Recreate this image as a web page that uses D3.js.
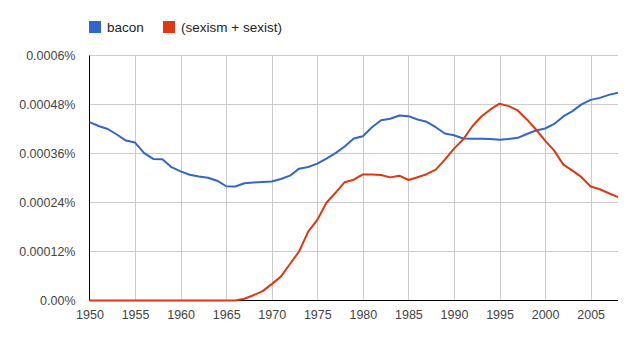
<!DOCTYPE html>
<html>
<head>
<meta charset="utf-8">
<script src="https://cdn.jsdelivr.net/npm/d3@7"></script>
<style>
  html, body { margin: 0; padding: 0; background: #fff; }
  svg { display: block; font-family: Arial, "Liberation Sans", sans-serif; }
</style>
</head>
<body>
<svg id="chart" width="627" height="340"></svg>
<script>
const years = d3.range(1950, 2009);
const seriesNames = ["bacon", "(sexism + sexist)"];
const seriesColors = ["#3366cc", "#dc3912"];
// values in units of 0.0001 %
const bacon = [4.367,4.274,4.200,4.065,3.917,3.868,3.610,3.467,3.457,3.266,
  3.162,3.081,3.039,3.007,2.934,2.798,2.793,2.872,2.892,2.904,
  2.916,2.975,3.057,3.229,3.270,3.352,3.475,3.610,3.770,3.966,
  4.023,4.244,4.416,4.451,4.532,4.515,4.434,4.377,4.244,4.089,
  4.048,3.966,3.959,3.959,3.954,3.934,3.954,3.984,4.077,4.163,
  4.212,4.323,4.507,4.638,4.802,4.913,4.962,5.036,5.090];
const sexism = [0,0,0,0,0,0,0,0,0,0,
  0,0,0,0,0,0,0,0.044,0.13,0.229,
  0.401,0.585,0.893,1.2,1.687,1.975,2.393,2.638,2.897,2.958,
  3.088,3.088,3.074,3.015,3.057,2.951,3.020,3.093,3.204,3.450,
  3.720,3.942,4.261,4.507,4.679,4.820,4.761,4.655,4.434,4.188,
  3.917,3.671,3.327,3.180,3.020,2.793,2.725,2.626,2.533];
const yTicks = [0, 1.2, 2.4, 3.6, 4.8, 6.0];
const yTickLabels = ["0.00%", "0.00012%", "0.00024%", "0.00036%", "0.00048%", "0.0006%"];
const xTicks = [1950, 1955, 1960, 1965, 1970, 1975, 1980, 1985, 1990, 1995, 2000, 2005];

const svg = d3.select("#chart");
const mLeft = 89.5, mRight = 618, mTop = 55.5, mBottom = 300.5;
const x = d3.scaleLinear().domain([1950, 2008]).range([mLeft, mRight]);
const y = d3.scaleLinear().domain([0, 6]).range([mBottom, mTop]);

// vertical grid
svg.append("g").selectAll("line").data(xTicks.slice(1)).join("line")
  .attr("x1", d => Math.round(x(d)) + 0.5).attr("x2", d => Math.round(x(d)) + 0.5)
  .attr("y1", mTop).attr("y2", mBottom)
  .attr("stroke", "#cccccc").attr("stroke-width", 1);
// horizontal grid
svg.append("g").selectAll("line").data(yTicks.slice(1)).join("line")
  .attr("x1", mLeft).attr("x2", mRight)
  .attr("y1", d => Math.round(y(d) - 0.5) + 0.5).attr("y2", d => Math.round(y(d) - 0.5) + 0.5)
  .attr("stroke", "#cccccc").attr("stroke-width", 1);

// axes
const yAxis = d3.axisLeft(y).tickValues(yTicks).tickSize(0).tickPadding(14)
  .tickFormat((d, i) => yTickLabels[i]);
const gy = svg.append("g").attr("transform", `translate(${mLeft},0)`).call(yAxis);
gy.select(".domain").attr("stroke", "#000").attr("d", `M0,${mTop}V${mBottom}`);
gy.selectAll("text").attr("font-size", 12.5).attr("fill", "#444").attr("font-family", "Arial, 'Liberation Sans', sans-serif");

const xAxis = d3.axisBottom(x).tickValues(xTicks).tickSize(0).tickPadding(10).tickFormat(d3.format("d"));
const gx = svg.append("g").attr("transform", `translate(0,${mBottom})`).call(xAxis);
gx.select(".domain").attr("stroke", "#000").attr("d", `M${mLeft},0H${mRight}`);
gx.selectAll("text").attr("font-size", 12.5).attr("fill", "#444").attr("font-family", "Arial, 'Liberation Sans', sans-serif");

// lines
const line = d3.line().x((d, i) => x(years[i])).y(d => y(d));
[bacon, sexism].forEach((s, k) => {
  svg.append("path").datum(s).attr("d", line)
    .attr("fill", "none").attr("stroke", seriesColors[k])
    .attr("stroke-width", 2).attr("stroke-linejoin", "round");
});

// legend
const legendX = [89, 163];
seriesNames.forEach((name, k) => {
  const g = svg.append("g").attr("transform", `translate(${legendX[k]},21)`);
  g.append("rect").attr("width", 12).attr("height", 12).attr("fill", seriesColors[k]);
  g.append("text").attr("x", 18).attr("y", 11).attr("font-size", 13.5)
    .attr("fill", "#222").text(name);
});
</script>
</body>
</html>
